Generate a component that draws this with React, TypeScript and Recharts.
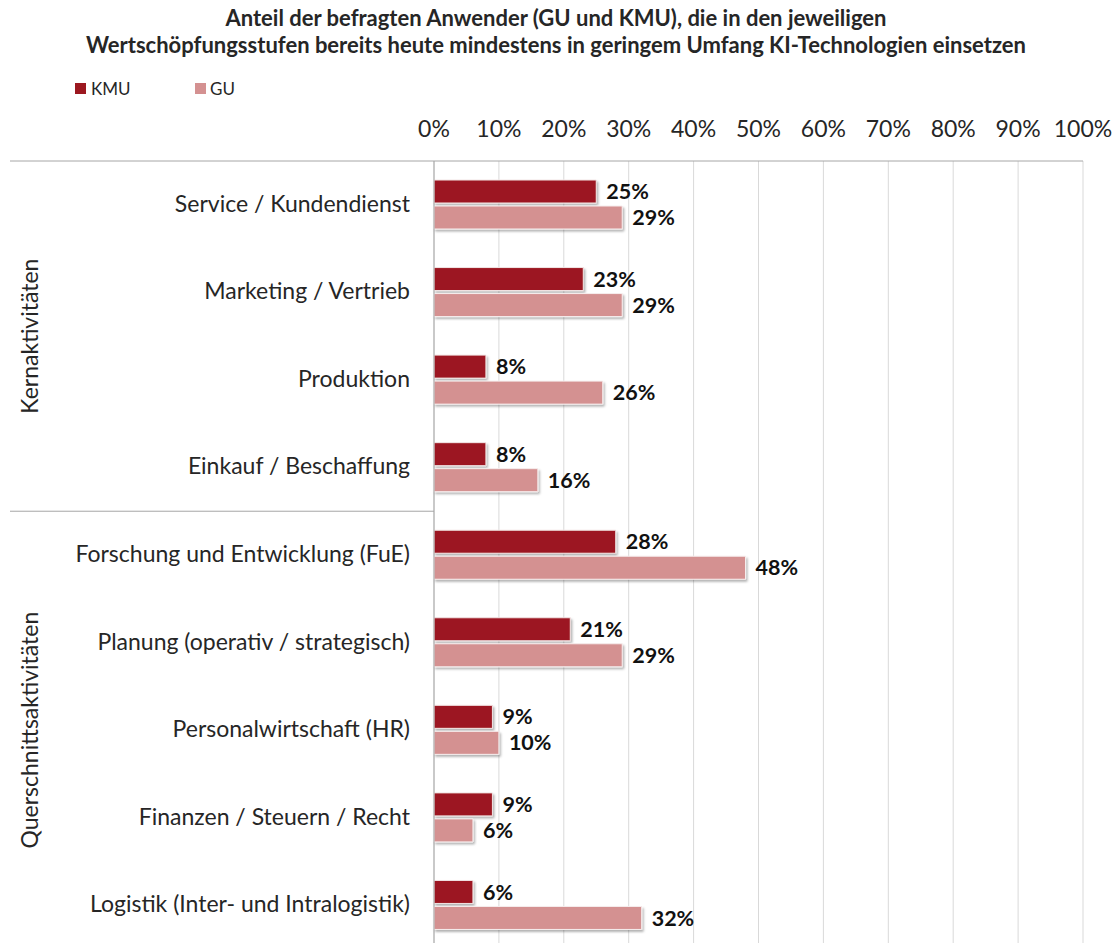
import React from 'react';
import { BarChart, Bar, XAxis, YAxis, CartesianGrid, LabelList } from 'recharts';

const categories = [
  'Service / Kundendienst',
  'Marketing / Vertrieb',
  'Produktion',
  'Einkauf / Beschaffung',
  'Forschung und Entwicklung (FuE)',
  'Planung (operativ / strategisch)',
  'Personalwirtschaft (HR)',
  'Finanzen / Steuern / Recht',
  'Logistik (Inter- und Intralogistik)',
];
const kmuValues = [25, 23, 8, 8, 28, 21, 9, 9, 6];
const guValues = [29, 29, 26, 16, 48, 29, 10, 6, 32];
const xTicks = [0, 10, 20, 30, 40, 50, 60, 70, 80, 90, 100];
const groupLabels = ['Kernaktivitäten', 'Querschnittsaktivitäten'];
const groupSizes = [4, 5];

const data = categories.map((name, i) => ({ name, kmu: kmuValues[i], gu: guValues[i] }));

const KMU_COLOR = '#9c1820';
const GU_COLOR = '#d49191';
const FONT = 'Lato, "Noto Sans", sans-serif';
const TEXT = '#262626';
const LINE = '#a6a6a6';

// indices where a group starts
const groupStarts = groupSizes.map((_, g) => groupSizes.slice(0, g).reduce((a, b) => a + b, 0));

function CategoryTick(props: any) {
  const { x, y, payload, index } = props;
  const half = payload && payload.offset ? payload.offset : 43.7;
  const axisX = x + 24;
  const g = groupStarts.indexOf(index);
  const gy = y + (g >= 0 ? (groupSizes[g] - 1) * half : 0);
  return (
    <g>
      <text x={x} y={y - 2} textAnchor="end" dominantBaseline="central" fontFamily={FONT} fontSize={23} fill={TEXT}>
        {payload.value}
      </text>
      {g >= 0 && (
        <>
          <line x1={10} x2={axisX} y1={y - half} y2={y - half} stroke={LINE} strokeWidth={1} />
          <text
            x={29}
            y={gy}
            textAnchor="middle"
            dominantBaseline="central"
            fontFamily={FONT}
            fontSize={23}
            fill={TEXT}
            transform={`rotate(-90, 29, ${gy})`}
          >
            {groupLabels[g]}
          </text>
        </>
      )}
    </g>
  );
}

const valueLabel = {
  position: 'right' as const,
  offset: 10,
  formatter: (v: any) => `${v}%`,
  style: { fontFamily: FONT, fontSize: 21.5, fontWeight: 700, fill: '#111' },
};

export default function App() {
  return (
    <div style={{ position: 'absolute', left: 0, top: 0, width: 1112, height: 943, overflow: 'hidden', background: '#fff' }}>
      <svg width={0} height={0} style={{ position: 'absolute' }}>
        <defs>
          <filter id="barShadow" x="-5%" y="-20%" width="115%" height="160%">
            <feDropShadow dx={1.5} dy={2} stdDeviation={1.2} floodColor="#000" floodOpacity={0.3} />
          </filter>
        </defs>
      </svg>

      <div
        style={{
          position: 'absolute',
          left: 0,
          top: 4,
          width: 1112,
          textAlign: 'center',
          fontFamily: FONT,
          fontWeight: 700,
          fontSize: 22,
          lineHeight: '27px',
          color: TEXT,
        }}
      >
        Anteil der befragten Anwender (GU und KMU), die in den jeweiligen
        <br />
        Wertschöpfungsstufen bereits heute mindestens in geringem Umfang KI-Technologien einsetzen
      </div>

      <div style={{ position: 'absolute', left: 75, top: 78, display: 'flex', fontFamily: FONT, fontSize: 17, color: TEXT }}>
        <div style={{ display: 'flex', alignItems: 'center', width: 120 }}>
          <span style={{ width: 11, height: 11, background: KMU_COLOR, marginRight: 5 }} />
          KMU
        </div>
        <div style={{ display: 'flex', alignItems: 'center' }}>
          <span style={{ width: 11, height: 11, background: GU_COLOR, marginRight: 4 }} />
          GU
        </div>
      </div>

      <BarChart
        width={1112}
        height={950}
        data={data}
        layout="vertical"
        margin={{ top: 100, right: 29, bottom: 1, left: 10 }}
        barSize={23}
        barGap={3}
      >
        <CartesianGrid horizontal={false} stroke="#d9d9d9" />
        <XAxis
          type="number"
          orientation="top"
          domain={[0, 100]}
          ticks={xTicks}
          tickFormatter={(v) => `${v}%`}
          height={61}
          tickLine={false}
          tickSize={0}
          tickMargin={24}
          axisLine={{ stroke: LINE }}
          tick={{ fontFamily: FONT, fontSize: 23, fill: TEXT }}
          interval={0}
        />
        <YAxis
          type="category"
          dataKey="name"
          width={424}
          tickLine={false}
          tickSize={0}
          tickMargin={24}
          axisLine={{ stroke: LINE }}
          tick={<CategoryTick />}
          interval={0}
        />
        <Bar dataKey="kmu" name="KMU" fill={KMU_COLOR} stroke="#f3e6e6" strokeWidth={1} filter="url(#barShadow)" isAnimationActive={false}>
          <LabelList dataKey="kmu" {...valueLabel} />
        </Bar>
        <Bar dataKey="gu" name="GU" fill={GU_COLOR} stroke="#f7eeee" strokeWidth={1} filter="url(#barShadow)" isAnimationActive={false}>
          <LabelList dataKey="gu" {...valueLabel} />
        </Bar>
      </BarChart>
    </div>
  );
}
